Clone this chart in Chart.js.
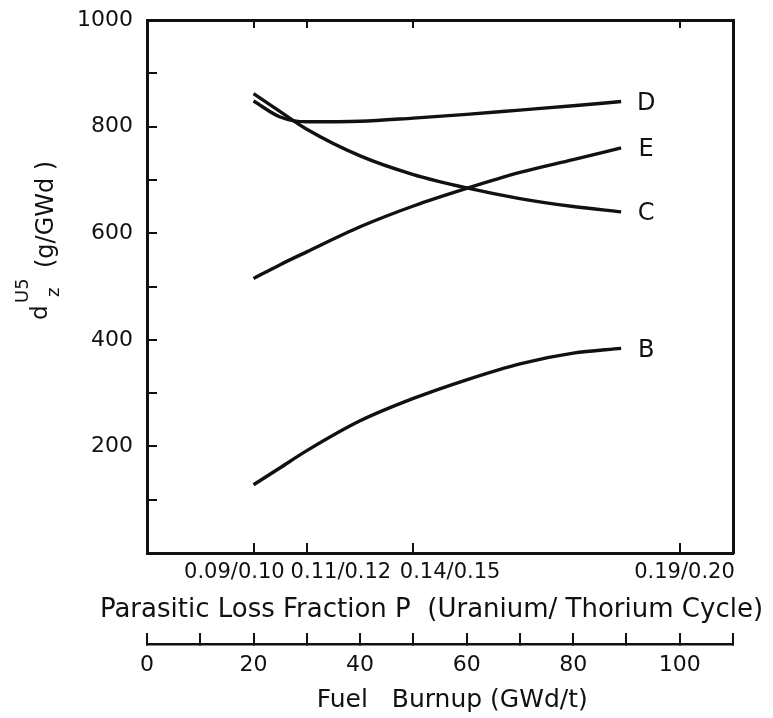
<!DOCTYPE html>
<html>
<head>
<meta charset="utf-8">
<script src="https://cdn.jsdelivr.net/npm/chart.js@4.4.0/dist/chart.umd.min.js"></script>
<style>
  html, body { margin: 0; padding: 0; background: #fff; }
  #wrap { width: 773px; height: 718px; }
</style>
</head>
<body>
<div id="wrap"><canvas id="chart" width="773" height="718"></canvas></div>
<script>
const burnup = [20, 25, 30, 40, 50, 60, 70, 80, 89];
const curveB = [128, 160, 192, 248, 290, 325, 355, 375, 384];
const curveC = [862, 828, 795, 745, 710, 685, 665, 650, 640];
const curveD = [848, 818, 809, 810, 816, 823, 831, 839, 847];
const curveE = [515, 541, 565, 612, 651, 684, 714, 738, 760];
const curveNames = ['B', 'C', 'D', 'E'];

// tick labels and axis texts
const yTicks = [0, 100, 200, 300, 400, 500, 600, 700, 800, 900, 1000];
const burnupTicks = [0, 10, 20, 30, 40, 50, 60, 70, 80, 90, 100, 110];
const parasiticTicks = [20, 30, 50, 100];
const parasiticLabels = ['0.09/0.10', '0.11/0.12', '0.14/0.15', '0.19/0.20'];
const parasiticTitle = 'Parasitic Loss Fraction P  (Uranium/ Thorium Cycle)';
const burnupTitle = 'Fuel   Burnup (GWd/t)';

const ink = '#111';
const family = 'DejaVu Sans';
const tickFont = { family: family, size: 22 };

// where the parasitic labels sit (burnup units), they are nudged off their ticks
const parasiticLabelAt = [16.4, 36.4, 56.9, 100.9];

function pts(ys) {
  return burnup.map((b, i) => ({ x: b, y: ys[i] }));
}

// no extra room for label overflow, the frame is placed by hand
function fixPad(s) {
  s.paddingTop = 0; s.paddingBottom = 0; s.paddingLeft = 0; s.paddingRight = 0;
}

const curveLabels = {
  id: 'curveLabels',
  afterDatasetsDraw(chart) {
    const ctx = chart.ctx;
    ctx.save();
    ctx.fillStyle = ink;
    ctx.font = '24px "' + family + '"';
    ctx.textAlign = 'center';
    ctx.textBaseline = 'middle';
    chart.data.datasets.forEach((ds, i) => {
      const meta = chart.getDatasetMeta(i);
      const last = meta.data[meta.data.length - 1];
      ctx.fillText(ds.label, last.x + 25, last.y + 2);
    });
    ctx.restore();
  }
};

// axis titles: the y one needs super/subscripts, the x ones run wider than the axis
const axisTitles = {
  id: 'axisTitles',
  afterDraw(chart) {
    const ctx = chart.ctx;
    const xP = chart.scales.xP;
    const x2 = chart.scales.x2;
    ctx.save();
    ctx.fillStyle = ink;
    ctx.textAlign = 'center';
    ctx.textBaseline = 'middle';
    ctx.font = '26px "' + family + '"';
    ctx.fillText(parasiticTitle, xP.getPixelForValue(53.4), xP.top + 57);
    ctx.font = '25px "' + family + '"';
    ctx.fillText(burnupTitle, x2.getPixelForValue(57.3), x2.top + 56);
    ctx.restore();

    ctx.save();
    ctx.translate(47, 320);
    ctx.rotate(-Math.PI / 2);
    ctx.fillStyle = ink;
    ctx.textBaseline = 'alphabetic';
    ctx.textAlign = 'left';
    ctx.font = '23px "' + family + '"';
    ctx.fillText('d', 0, 0);
    ctx.font = '18px "' + family + '"';
    ctx.fillText('U5', 17, -19);
    ctx.fillText('z', 23, 12);
    ctx.font = '24px "' + family + '"';
    ctx.fillText('(g/GWd )', 52, 6);
    ctx.restore();
  }
};

const chart = new Chart(document.getElementById('chart'), {
  type: 'line',
  data: {
    datasets: [curveB, curveC, curveD, curveE].map((ys, i) => ({
      label: curveNames[i],
      data: pts(ys),
      borderColor: ink,
      borderWidth: 3.4,
      pointRadius: 0,
      fill: false,
      cubicInterpolationMode: 'monotone',
      xAxisID: 'x',
      yAxisID: 'y'
    }))
  },
  options: {
    responsive: false,
    animation: false,
    events: [],
    layout: { padding: { top: 20, right: 40, left: 0, bottom: 0 } },
    plugins: { legend: { display: false }, tooltip: { enabled: false } },
    scales: {
      x: {
        type: 'linear', position: 'bottom', min: 0, max: 110, weight: 0,
        afterBuildTicks: s => { s.ticks = parasiticTicks.map(v => ({ value: v })); },
        afterFit: s => { s.height = 0; fixPad(s); },
        ticks: { display: false },
        grid: { drawOnChartArea: false, tickLength: -10, color: ink, lineWidth: 2 },
        border: { display: true, color: ink, width: 3 }
      },
      xP: {
        type: 'linear', position: 'bottom', min: 0, max: 110, weight: 1,
        afterBuildTicks: s => { s.ticks = parasiticLabelAt.map(v => ({ value: v })); },
        afterFit: s => { s.height = 91; fixPad(s); },
        ticks: {
          callback: (v, i) => parasiticLabels[i],
          font: { family: family, size: 21 }, color: ink, padding: 7, maxRotation: 0, autoSkip: false
        },
        grid: { display: false, drawTicks: false },
        border: { display: false }
      },
      x2: {
        type: 'linear', position: 'bottom', min: 0, max: 110, weight: 2,
        afterBuildTicks: s => { s.ticks = burnupTicks.map(v => ({ value: v })); },
        afterFit: s => { s.height = 74; fixPad(s); },
        ticks: {
          callback: v => (v % 20 === 0 && v <= 100) ? String(v) : '',
          font: tickFont, color: ink, padding: 19, maxRotation: 0, autoSkip: false
        },
        grid: { drawOnChartArea: false, tickLength: -11, color: ink, lineWidth: 2 },
        border: { display: true, color: ink, width: 2.5 }
      },
      xTop: {
        type: 'linear', position: 'top', min: 0, max: 110,
        afterBuildTicks: s => { s.ticks = parasiticTicks.map(v => ({ value: v })); },
        afterFit: s => { s.height = 0; fixPad(s); },
        ticks: { display: false },
        grid: { drawOnChartArea: false, tickLength: -8, color: ink, lineWidth: 2 },
        border: { display: true, color: ink, width: 3 }
      },
      y: {
        type: 'linear', position: 'left', min: 0, max: 1000,
        afterBuildTicks: s => { s.ticks = yTicks.map(v => ({ value: v })); },
        afterFit: s => { s.width = 147; fixPad(s); },
        ticks: {
          callback: v => (v % 200 === 0 && v > 0) ? String(v) : '',
          font: tickFont, color: ink, padding: 24
        },
        grid: { drawOnChartArea: false, tickLength: -10, color: ink, lineWidth: 2 },
        border: { display: true, color: ink, width: 3 }
      },
      yR: {
        type: 'linear', position: 'right', min: 0, max: 1000,
        afterFit: s => { s.width = 0; fixPad(s); },
        ticks: { display: false },
        grid: { display: false, drawTicks: false },
        border: { display: true, color: ink, width: 3 }
      }
    }
  },
  plugins: [curveLabels, axisTitles]
});
</script>
</body>
</html>
